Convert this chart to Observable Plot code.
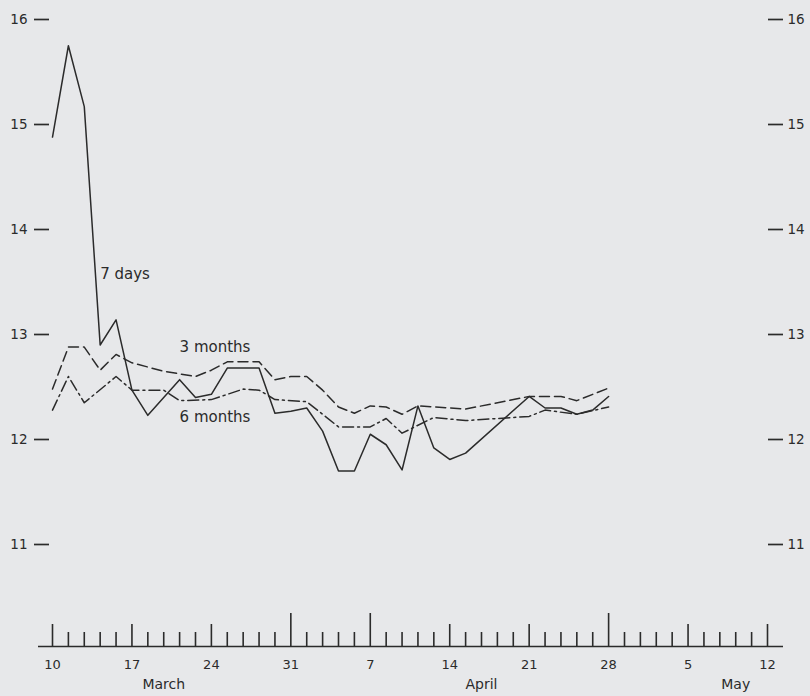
<!DOCTYPE html>
<html>
<head>
<meta charset="utf-8">
<script src="https://cdn.jsdelivr.net/npm/d3@7"></script>
<script src="https://cdn.jsdelivr.net/npm/@observablehq/plot@0.6"></script>
<style>
  html, body { margin: 0; padding: 0; background: #e7e8ea; }
  #chart svg { display: block; }
</style>
</head>
<body>
<div id="chart"></div>
<script>
// ---- data ----
const firstDay = "1980-03-10";
const lastDay = "1980-05-12";
const yTicks = [11, 12, 13, 14, 15, 16];
const weekStarts = ["1980-03-10","1980-03-17","1980-03-24","1980-03-31","1980-04-07","1980-04-14","1980-04-21","1980-04-28","1980-05-05","1980-05-12"];
const longTicks = ["1980-03-31","1980-04-07","1980-04-28"];
const monthLabels = ["March", "April", "May"];
const monthLabelDates = ["1980-03-19", "1980-04-16", "1980-05-08"];

const sevenDays = [
  ["1980-03-10",14.88],["1980-03-11",15.75],["1980-03-12",15.17],["1980-03-13",12.90],
  ["1980-03-14",13.14],["1980-03-17",12.47],["1980-03-18",12.23],["1980-03-20",12.57],
  ["1980-03-21",12.40],["1980-03-24",12.43],["1980-03-25",12.68],["1980-03-27",12.68],
  ["1980-03-28",12.25],["1980-03-31",12.27],["1980-04-01",12.30],["1980-04-02",12.08],
  ["1980-04-03",11.70],["1980-04-04",11.70],["1980-04-07",12.05],["1980-04-08",11.95],
  ["1980-04-09",11.71],["1980-04-10",12.32],["1980-04-11",11.92],["1980-04-14",11.81],
  ["1980-04-15",11.87],["1980-04-21",12.41],["1980-04-22",12.30],["1980-04-23",12.30],
  ["1980-04-24",12.24],["1980-04-25",12.28],["1980-04-28",12.41]
];
const threeMonths = [
  ["1980-03-10",12.48],["1980-03-11",12.88],["1980-03-12",12.88],["1980-03-13",12.66],
  ["1980-03-14",12.81],["1980-03-17",12.73],["1980-03-19",12.65],["1980-03-21",12.60],
  ["1980-03-24",12.66],["1980-03-25",12.74],["1980-03-27",12.74],["1980-03-28",12.57],
  ["1980-03-31",12.60],["1980-04-01",12.60],["1980-04-02",12.47],["1980-04-03",12.31],
  ["1980-04-04",12.25],["1980-04-07",12.32],["1980-04-08",12.31],["1980-04-09",12.24],
  ["1980-04-10",12.32],["1980-04-15",12.29],["1980-04-21",12.41],["1980-04-23",12.41],
  ["1980-04-24",12.37],["1980-04-28",12.49]
];
const sixMonths = [
  ["1980-03-10",12.28],["1980-03-11",12.60],["1980-03-12",12.35],["1980-03-14",12.60],
  ["1980-03-17",12.47],["1980-03-19",12.47],["1980-03-20",12.37],["1980-03-24",12.38],
  ["1980-03-26",12.48],["1980-03-27",12.47],["1980-03-28",12.38],["1980-04-01",12.36],
  ["1980-04-03",12.12],["1980-04-07",12.12],["1980-04-08",12.20],["1980-04-09",12.06],
  ["1980-04-11",12.21],["1980-04-15",12.18],["1980-04-21",12.22],["1980-04-22",12.28],
  ["1980-04-24",12.24],["1980-04-28",12.31]
];
const seriesNames = ["7 days", "3 months", "6 months"];
const seriesLabelDates = ["1980-03-13", "1980-03-20", "1980-03-20"];
const seriesLabelValues = [13.57, 12.88, 12.21];

// ---- helpers ----
const fmt = d3.timeFormat("%Y-%m-%d");
const parse = d3.timeParse("%Y-%m-%d");
const businessDays = d3.timeDay.range(parse(firstDay), d3.timeDay.offset(parse(lastDay), 1))
  .filter(d => d.getDay() % 6 !== 0);
const idx = s => businessDays.findIndex(d => fmt(d) === s);
const toRows = arr => arr.map(([d, v]) => ({i: idx(d), v}));

const ink = "#2b2b2b";
const font = "DejaVu Sans, Liberation Sans, sans-serif";
const W = 810, mL = 52, mR = 43;
const xDomain = [0, businessDays.length - 1];

const labels = seriesNames.map((t, k) => ({t, i: idx(seriesLabelDates[k]), v: seriesLabelValues[k]}));

const mainPlot = Plot.plot({
  width: W, height: 560,
  marginTop: 19, marginBottom: 16, marginLeft: mL, marginRight: mR,
  style: {background: "transparent", fontFamily: font, color: ink},
  x: {domain: xDomain, axis: null},
  y: {domain: [11, 16], label: null},
  marks: [
    Plot.axisY({anchor: "left", ticks: yTicks, tickFormat: "d", tickSize: 15, tickPadding: 7, dx: -3, fontSize: 13.5, strokeWidth: 1.7, label: null}),
    Plot.axisY({anchor: "right", ticks: yTicks, tickFormat: "d", tickSize: 15, tickPadding: 5, fontSize: 13.5, strokeWidth: 1.7, label: null}),
    Plot.line(toRows(sevenDays), {x: "i", y: "v", stroke: ink, strokeWidth: 1.5}),
    Plot.line(toRows(threeMonths), {x: "i", y: "v", stroke: ink, strokeWidth: 1.5, strokeDasharray: "10,5"}),
    Plot.line(toRows(sixMonths), {x: "i", y: "v", stroke: ink, strokeWidth: 1.5, strokeDasharray: "11,4,2,4"}),
    Plot.text(labels, {x: "i", y: "v", text: "t", textAnchor: "start", fontSize: 15, fill: ink, style: "letter-spacing:0.8px"})
  ]
});

const mondays = weekStarts.map(idx);
const longs = longTicks.map(idx);
const allIdx = businessDays.map((d, i) => i);
const smallIdx = allIdx.filter(i => !mondays.includes(i) && !longs.includes(i));
const midIdx = mondays.filter(i => !longs.includes(i));
const months = monthLabels.map((m, k) => ({m, i: idx(monthLabelDates[k])}));
const frameH = 86;

const axisPlot = Plot.plot({
  width: W, height: 136,
  marginTop: 0, marginBottom: 136 - frameH, marginLeft: mL, marginRight: mR,
  style: {background: "transparent", fontFamily: font, color: ink},
  x: {domain: xDomain, axis: null},
  y: {domain: [0, 1], axis: null},
  marks: [
    Plot.ruleY([0], {stroke: ink, strokeWidth: 1.6, insetLeft: -14, insetRight: -16}),
    Plot.ruleX(smallIdx, {stroke: ink, strokeWidth: 1.6, insetTop: frameH - 14}),
    Plot.ruleX(midIdx, {stroke: ink, strokeWidth: 1.6, insetTop: frameH - 22}),
    Plot.ruleX(longs, {stroke: ink, strokeWidth: 1.6, insetTop: frameH - 33}),
    Plot.axisX({ticks: mondays, tickFormat: i => businessDays[i].getDate(), tickSize: 0, tickPadding: 13, fontSize: 13, label: null}),
    Plot.text(months, {x: "i", text: "m", frameAnchor: "bottom", dy: 42, fontSize: 14, fill: ink, style: "letter-spacing:1.5px"})
  ]
});

document.getElementById("chart").append(mainPlot, axisPlot);
</script>
</body>
</html>
